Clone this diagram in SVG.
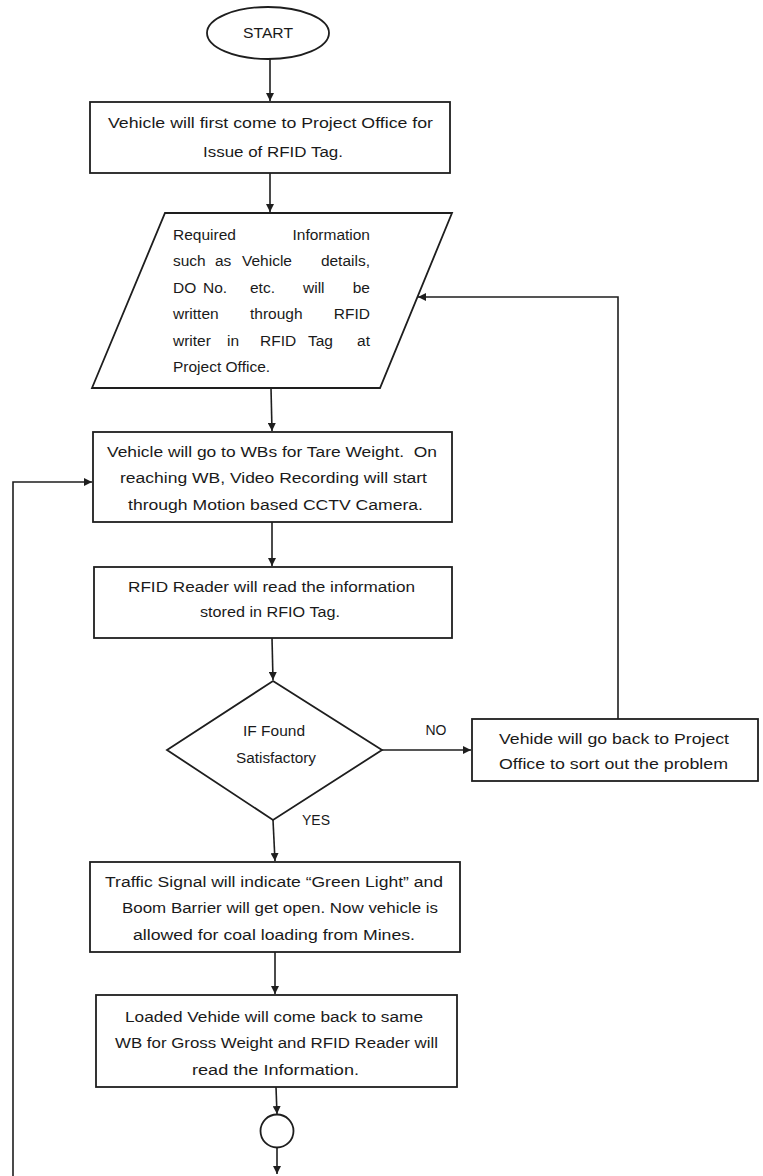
<svg xmlns="http://www.w3.org/2000/svg" width="763" height="1176" viewBox="0 0 763 1176">
<defs>
<style>
.shape{fill:none;stroke:#1e1e1e;stroke-width:1.8}
.con{fill:none;stroke:#1e1e1e;stroke-width:1.6}
text{font-family:"Liberation Sans",Arial,sans-serif;font-size:14px;fill:#1a1a1a}
.p{font-size:15.5px}
.c{text-anchor:middle}
.e{text-anchor:end}
</style>
<marker id="arr" markerUnits="userSpaceOnUse" markerWidth="8" markerHeight="8" refX="8" refY="4" orient="auto">
<path d="M0,0 L8,4 L0,8 z" fill="#1e1e1e"/>
</marker>
</defs>
<rect width="763" height="1176" fill="#ffffff"/>
<g id="connectors">
<path class="con" d="M270,59 L270,101" marker-end="url(#arr)"/>
<path class="con" d="M270,173 L270,212" marker-end="url(#arr)"/>
<path class="con" d="M271,388 L272,431" marker-end="url(#arr)"/>
<path class="con" d="M272,522 L272,566" marker-end="url(#arr)"/>
<path class="con" d="M272,638 L273,680" marker-end="url(#arr)"/>
<path class="con" d="M273,820 L275,861" marker-end="url(#arr)"/>
<path class="con" d="M275,952 L275,994" marker-end="url(#arr)"/>
<path class="con" d="M276,1087 L277,1114" marker-end="url(#arr)"/>
<path class="con" d="M277,1148 L277,1174" marker-end="url(#arr)"/>
<path class="con" d="M382,750 L471,750" marker-end="url(#arr)"/>
<path class="con" d="M618,719 L618,297 L418,297" marker-end="url(#arr)"/>
<path class="con" d="M13,1176 L13,482 L92,482" marker-end="url(#arr)"/>
<text x="436" y="735" class="c">NO</text>
<text x="316" y="825" class="c">YES</text>
</g>
<g id="start">
<ellipse class="shape" cx="268" cy="33" rx="61" ry="26"/>
<text x="243" y="38" textLength="50" lengthAdjust="spacingAndGlyphs">START</text>
</g>
<g id="issue-tag">
<rect class="shape" x="90" y="102" width="360" height="71"/>
<text x="108" y="128" textLength="325" lengthAdjust="spacingAndGlyphs">Vehicle will first come to Project Office for</text>
<text x="203" y="157" textLength="140" lengthAdjust="spacingAndGlyphs">Issue of RFID Tag.</text>
</g>
<g id="write-tag">
<polygon class="shape" points="165,213 452,213 380,388 92,388"/>
<text class="p" y="240"><tspan x="173">Required</tspan></text>
<text class="p e" y="240" x="370">Information</text>
<text class="p" y="266"><tspan x="173">such</tspan><tspan x="215">as</tspan><tspan x="242">Vehicle</tspan></text>
<text class="p e" y="266" x="370">details,</text>
<text class="p" y="293"><tspan x="173">DO</tspan><tspan x="203">No.</tspan><tspan x="250">etc.</tspan><tspan x="303">will</tspan></text>
<text class="p e" y="293" x="370">be</text>
<text class="p" y="319"><tspan x="173">written</tspan><tspan x="250">through</tspan></text>
<text class="p e" y="319" x="370">RFID</text>
<text class="p" y="346"><tspan x="173">writer</tspan><tspan x="227">in</tspan><tspan x="260">RFID</tspan><tspan x="308">Tag</tspan></text>
<text class="p e" y="346" x="370">at</text>
<text class="p" y="372" x="173">Project Office.</text>
</g>
<g id="tare-weight">
<rect class="shape" x="93" y="432" width="359" height="90"/>
<text x="107" y="457" textLength="330" lengthAdjust="spacingAndGlyphs">Vehicle will go to WBs for Tare Weight.&#160; On</text>
<text x="120" y="483" textLength="307" lengthAdjust="spacingAndGlyphs">reaching WB, Video Recording will start</text>
<text x="128" y="510" textLength="295" lengthAdjust="spacingAndGlyphs">through Motion based CCTV Camera.</text>
</g>
<g id="read-tag">
<rect class="shape" x="94" y="567" width="358" height="71"/>
<text x="128" y="592" textLength="287" lengthAdjust="spacingAndGlyphs">RFID Reader will read the information</text>
<text x="200" y="617" textLength="140" lengthAdjust="spacingAndGlyphs">stored in RFIO Tag.</text>
</g>
<g id="decision">
<polygon class="shape" points="273,681 382,750 273,820 167,750"/>
<text x="243" y="736" textLength="62" lengthAdjust="spacingAndGlyphs">IF Found</text>
<text x="236" y="763" textLength="80" lengthAdjust="spacingAndGlyphs">Satisfactory</text>
</g>
<g id="go-back">
<rect class="shape" x="472" y="719" width="286" height="62"/>
<text x="499" y="744" textLength="230" lengthAdjust="spacingAndGlyphs">Vehide will go back to Project</text>
<text x="499" y="769" textLength="229" lengthAdjust="spacingAndGlyphs">Office to sort out the problem</text>
</g>
<g id="green-light">
<rect class="shape" x="90" y="862" width="370" height="90"/>
<text x="105" y="887" textLength="338" lengthAdjust="spacingAndGlyphs">Traffic Signal will indicate “Green Light” and</text>
<text x="122" y="913" textLength="316" lengthAdjust="spacingAndGlyphs">Boom Barrier will get open. Now vehicle is</text>
<text x="133" y="940" textLength="282" lengthAdjust="spacingAndGlyphs">allowed for coal loading from Mines.</text>
</g>
<g id="gross-weight">
<rect class="shape" x="96" y="995" width="361" height="92"/>
<text x="125" y="1022" textLength="298" lengthAdjust="spacingAndGlyphs">Loaded Vehide will come back to same</text>
<text x="115" y="1048" textLength="323" lengthAdjust="spacingAndGlyphs">WB for Gross Weight and RFID Reader will</text>
<text x="192" y="1075" textLength="167" lengthAdjust="spacingAndGlyphs">read the Information.</text>
</g>
<g id="connector-circle">
<circle class="shape" cx="277" cy="1131" r="16.5"/>
</g>
</svg>
